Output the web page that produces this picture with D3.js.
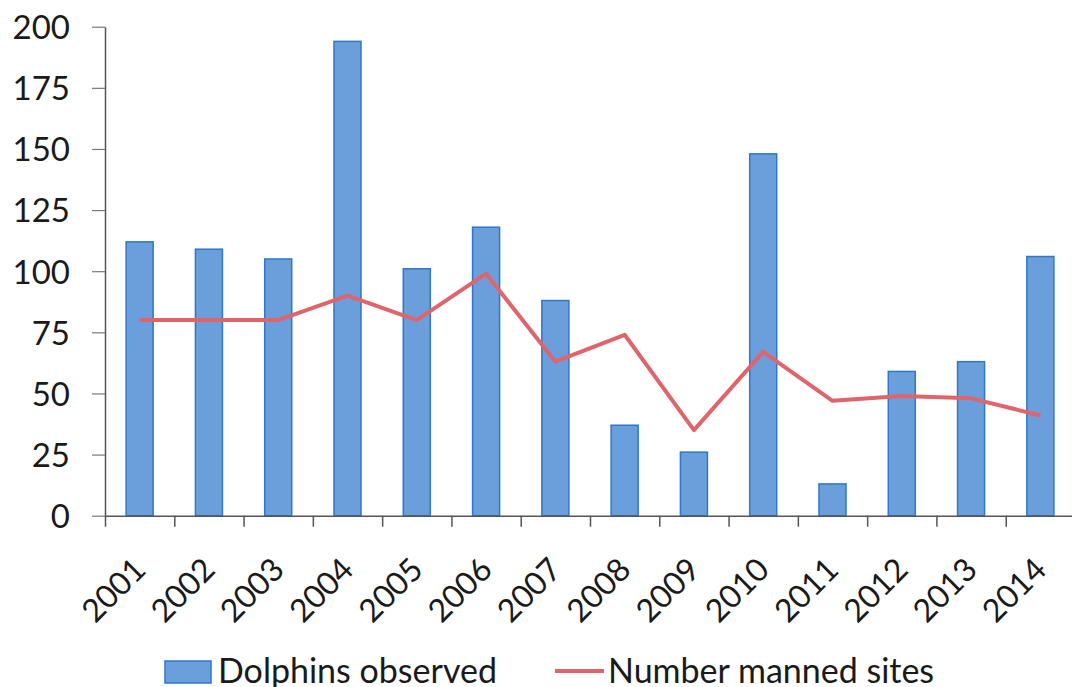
<!DOCTYPE html>
<meta charset="utf-8">
<script src="https://d3js.org/d3.v7.min.js"></script>
<style>
  body { margin: 0; background: #fff; }
  text { font-family: Lato, "Open Sans", sans-serif; fill: #1a1a1a; }
</style>
<div id="my_dataviz"></div>
<script>

// data
var years = ["2001","2002","2003","2004","2005","2006","2007","2008","2009","2010","2011","2012","2013","2014"];
var dolphins = [112, 109, 105, 194, 101, 118, 88, 37, 26, 148, 13, 59, 63, 106];
var sites = [80, 80, 80, 90, 80, 99, 63, 74, 35, 67, 47, 49, 48, 41];
var yTicks = [0, 25, 50, 75, 100, 125, 150, 175, 200];

var width = 1072, height = 687;
var plotLeft = 105, plotRight = 1075, plotTop = 26.7, plotBottom = 515.7;

var svg = d3.select("#my_dataviz")
  .append("svg")
    .attr("width", width)
    .attr("height", height);

// scales
var x = d3.scaleBand()
  .domain(years)
  .range([plotLeft, plotRight])
  .paddingInner(0.61)
  .paddingOuter(0.305);

var slots = d3.scaleLinear()
  .domain([0, years.length])
  .range([plotLeft, plotRight]);

var y = d3.scaleLinear()
  .domain([0, 200])
  .range([plotBottom, plotTop]);

// bars
svg.append("g")
  .selectAll("rect")
  .data(years)
  .enter().append("rect")
    .attr("x", function(d) { return x(d); })
    .attr("y", function(d, i) { return y(dolphins[i]); })
    .attr("width", x.bandwidth())
    .attr("height", function(d, i) { return y(0) - y(dolphins[i]); })
    .attr("fill", "#6a9fdc")
    .attr("stroke", "#2e77c9")
    .attr("stroke-width", 1.5);

// Y axis
var yAxis = svg.append("g")
  .attr("transform", "translate(" + plotLeft + ",0)")
  .call(d3.axisLeft(y).tickValues(yTicks).tickSize(13).tickPadding(22).tickSizeOuter(0));
yAxis.select(".domain").attr("stroke", "#555").attr("stroke-width", 1.5);
yAxis.selectAll(".tick line").attr("stroke", "#777").attr("stroke-width", 1.2);
yAxis.selectAll("text")
  .attr("font-size", 33)
  .attr("dy", "0.36em")
  .attr("fill", "#1a1a1a")
  .style("font-family", "Lato, sans-serif");

// X axis: tick marks at category boundaries
var xTickAxis = svg.append("g")
  .attr("transform", "translate(0," + plotBottom + ")")
  .call(d3.axisBottom(slots).tickValues(d3.range(years.length + 1)).tickFormat("").tickSize(11).tickSizeOuter(0));
xTickAxis.select(".domain").attr("stroke", "#555").attr("stroke-width", 1.5);
xTickAxis.selectAll(".tick line").attr("stroke", "#555").attr("stroke-width", 1.5);

// X labels, rotated
svg.append("g")
  .selectAll("text")
  .data(years)
  .enter().append("text")
    .attr("transform", function(d) {
      return "translate(" + (x(d) + x.bandwidth() / 2 + 8) + "," + (plotBottom + 56) + ") rotate(-45)";
    })
    .attr("text-anchor", "end")
    .attr("font-size", 32)
    .text(function(d) { return d; });

// line
svg.append("path")
  .datum(years)
  .attr("fill", "none")
  .attr("stroke", "#e0646c")
  .attr("stroke-width", 4)
  .attr("stroke-linejoin", "round")
  .attr("d", d3.line()
    .x(function(d) { return x(d) + x.bandwidth() / 2; })
    .y(function(d, i) { return y(sites[i]); })
  );

// legend
var legend = svg.append("g");
legend.append("rect")
  .attr("x", 165).attr("y", 661)
  .attr("width", 46).attr("height", 22)
  .attr("fill", "#6a9fdc")
  .attr("stroke", "#2e77c9")
  .attr("stroke-width", 1.5);
legend.append("text")
  .attr("x", 218).attr("y", 683)
  .attr("font-size", 34)
  .text("Dolphins observed");
legend.append("line")
  .attr("x1", 555).attr("x2", 604)
  .attr("y1", 671).attr("y2", 671)
  .attr("stroke", "#e0646c")
  .attr("stroke-width", 4);
legend.append("text")
  .attr("x", 608).attr("y", 683)
  .attr("font-size", 34)
  .text("Number manned sites");

</script>
